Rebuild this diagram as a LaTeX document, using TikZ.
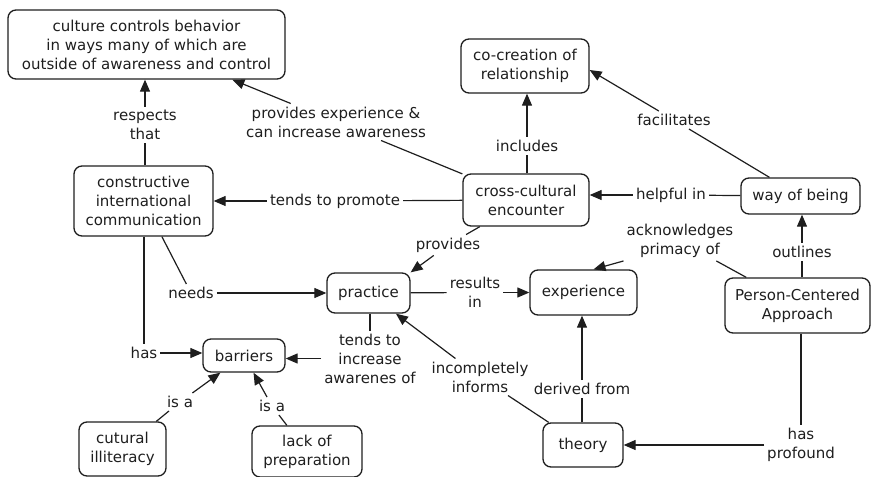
\documentclass[tikz,border=0pt]{standalone}
\usepackage{fontspec}
\setmainfont{DejaVu Sans}
\usetikzlibrary{arrows.meta}
\definecolor{ink}{HTML}{1E1E1E}
\tikzset{
  concept/.style={draw=ink, line width=1.3pt, rounded corners=8pt, align=center,
                  inner sep=0pt, text=ink},
  linkword/.style={align=center, inner sep=3pt, text=ink},
  link/.style={draw=ink, line width=1.2pt},
  linkarrow/.style={link, -{Triangle[length=12pt,width=10pt]}},
}
\begin{document}
\begin{tikzpicture}[x=1pt, y=-1pt, font=\fontsize{15}{19}\selectfont]
\useasboundingbox (0,0) rectangle (871,477);

% concepts
\node[concept, minimum width=277pt, minimum height=69pt] (culture) at (146.5,44.5)
  {culture controls behavior\\in ways many of which are\\outside of awareness and control};
\node[concept, minimum width=128pt, minimum height=54pt] (cocreation) at (525,66)
  {co-creation of\\relationship};
\node[concept, minimum width=139pt, minimum height=70pt] (cons) at (143.5,201)
  {constructive\\international\\communication};
\node[concept, minimum width=126pt, minimum height=52pt] (cross) at (526,200)
  {cross-cultural\\encounter};
\node[concept, minimum width=119pt, minimum height=36pt] (way) at (800.5,196)
  {way of being};
\node[concept, minimum width=83pt, minimum height=40pt] (practice) at (368.5,293)
  {practice};
\node[concept, minimum width=107pt, minimum height=45pt] (experience) at (583.5,292.5)
  {experience};
\node[concept, minimum width=145pt, minimum height=55pt] (pca) at (797.5,305.5)
  {Person-Centered\\Approach};
\node[concept, minimum width=82pt, minimum height=33pt] (barriers) at (244,355.5)
  {barriers};
\node[concept, minimum width=80pt, minimum height=44pt] (theory) at (583,445)
  {theory};
\node[concept, minimum width=87pt, minimum height=54pt] (illit) at (122.5,449)
  {cutural\\illiteracy};
\node[concept, minimum width=110pt, minimum height=51pt] (lack) at (307,451.5)
  {lack of\\preparation};

% linking phrases
\node[linkword] (respects) at (145,125) {respects\\that};
\node[linkword] (provexp) at (336,122) {provides experience \&\\can increase awareness};
\node[linkword] (promote) at (335,201) {tends to promote};
\node[linkword] (includes) at (527,146) {includes};
\node[linkword] (helpful) at (671,195) {helpful in};
\node[linkword] (facil) at (674,120) {facilitates};
\node[linkword] (provides) at (448,245) {provides};
\node[linkword] (needs) at (191,293) {needs};
\node[linkword] (results) at (475,292.5) {results\\in};
\node[linkword] (ackn) at (680,241) {acknowledges\\primacy of};
\node[linkword] (outlines) at (802,252) {outlines};
\node[linkword] (has) at (144,353) {has};
\node[linkword] (increase) at (370,358.5) {tends to\\increase\\awarenes of};
\node[linkword] (informs) at (480,377) {incompletely\\informs};
\node[linkword] (derived) at (582,389) {derived from};
\node[linkword] (profound) at (801,445) {has\\profound};
\node[linkword] (isaL) at (180,402) {is a};
\node[linkword] (isaR) at (272,406) {is a};

% connections
\draw[link] (respects |- cons.north) -- (respects);
\draw[linkarrow] (respects) -- (respects |- culture.south);

\draw[link] (cross) -- (provexp);
\draw[linkarrow] (provexp) -- (culture);

\draw[link] (cross) -- (promote);
\draw[linkarrow] (promote) -- (promote -| cons.east);

\draw[link] (includes |- cross.north) -- (includes);
\draw[linkarrow] (includes) -- (includes |- cocreation.south);

\draw[link] (way) -- (helpful);
\draw[linkarrow] (helpful) -- (helpful -| cross.east);

\draw[link] (way) -- (facil);
\draw[linkarrow] (facil) -- ([yshift=-4pt]cocreation.east);

\draw[link] (cross) -- (provides);
\draw[linkarrow] (provides) -- (practice.north east);

\draw[link] (cons) -- (needs);
\draw[linkarrow] (needs) -- (needs -| practice.west);

\draw[link] (practice) -- (results);
\draw[linkarrow] (results) -- (experience);

\draw[link] (pca) -- (ackn);
\draw[linkarrow] (ackn.south west) -- ([xshift=10pt]experience.north);

\draw[link] (outlines |- pca.north) -- (outlines);
\draw[linkarrow] (outlines) -- (outlines |- way.south);

\draw[link] (has |- cons.south) -- (has);
\draw[linkarrow] (has) -- (has -| barriers.west);

\draw[link] (increase |- practice.south) -- (increase);
\draw[linkarrow] (increase) -- (increase -| barriers.east);

\draw[link] (theory) -- (informs);
\draw[linkarrow] (informs) -- (practice);

\draw[link] (derived |- theory.north) -- (derived);
\draw[linkarrow] (derived) -- (derived |- experience.south);

\draw[link] (profound |- pca.south) -- (profound);
\draw[linkarrow] (profound) -- (profound -| theory.east);

\draw[link] (illit) -- (isaL);
\draw[linkarrow] (isaL) -- (barriers);

\draw[link] (lack) -- (isaR);
\draw[linkarrow] (isaR) -- (barriers);
\end{tikzpicture}
\end{document}
